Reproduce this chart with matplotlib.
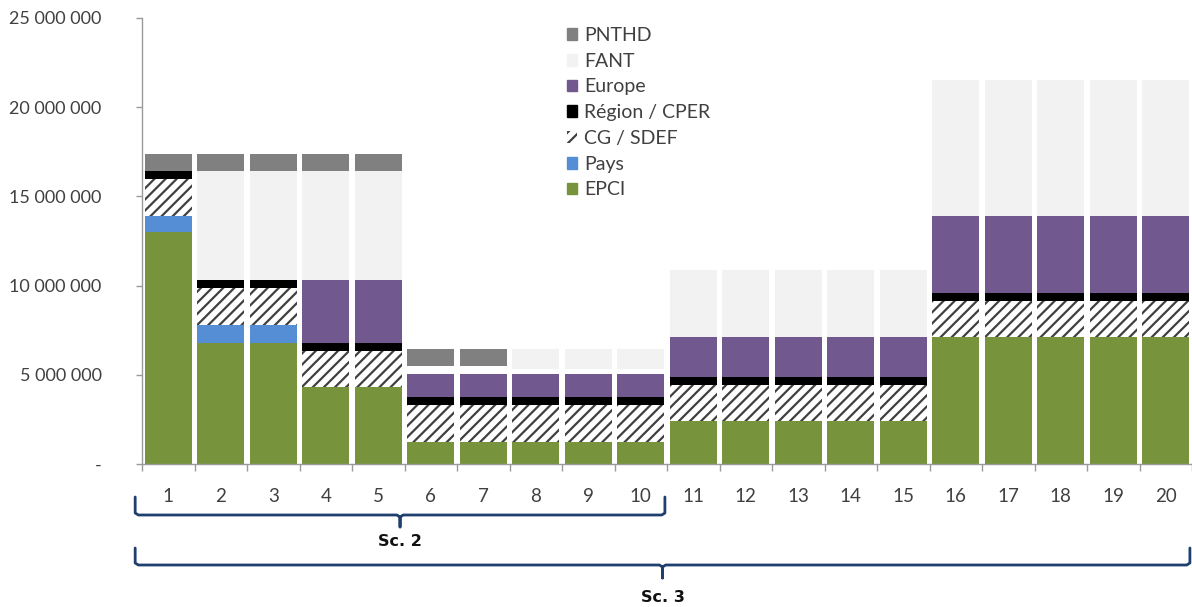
import matplotlib
matplotlib.use("Agg")
import matplotlib.pyplot as plt
import matplotlib.transforms as mtransforms
from matplotlib.patches import Patch
import numpy as np

plt.rcParams["font.family"] = ["Lato", "DejaVu Sans"]
plt.rcParams["hatch.linewidth"] = 1.6

# Scenario index (x categories)
scenarios = [str(i) for i in range(1, 21)]

# Funding per source, in euros (stacked bottom to top)
epci = [13.0e6, 6.8e6, 6.8e6, 4.3e6, 4.3e6,
        1.25e6, 1.25e6, 1.25e6, 1.25e6, 1.25e6,
        2.4e6, 2.4e6, 2.4e6, 2.4e6, 2.4e6,
        7.1e6, 7.1e6, 7.1e6, 7.1e6, 7.1e6]
pays = [0.9e6, 1.0e6, 1.0e6, 0, 0,
        0, 0, 0, 0, 0,
        0, 0, 0, 0, 0,
        0, 0, 0, 0, 0]
cg_sdef = [2.05e6] * 20
region_cper = [0.45e6] * 20
europe = [0, 0, 0, 3.5e6, 3.5e6,
          1.3e6, 1.3e6, 1.3e6, 1.3e6, 1.3e6,
          2.2e6, 2.2e6, 2.2e6, 2.2e6, 2.2e6,
          4.3e6, 4.3e6, 4.3e6, 4.3e6, 4.3e6]
non_affecte = [0, 0, 0, 0, 0,
               0.45e6, 0.45e6, 0.3e6, 0.3e6, 0.3e6,
               0, 0, 0, 0, 0,
               0, 0, 0, 0, 0]
fant = [0, 6.1e6, 6.1e6, 6.1e6, 6.1e6,
        0, 0, 1.1e6, 1.1e6, 1.1e6,
        3.8e6, 3.8e6, 3.8e6, 3.8e6, 3.8e6,
        7.6e6, 7.6e6, 7.6e6, 7.6e6, 7.6e6]
pnthd = [1.0e6, 1.0e6, 1.0e6, 1.0e6, 1.0e6,
         0.95e6, 0.95e6, 0, 0, 0,
         0, 0, 0, 0, 0,
         0, 0, 0, 0, 0]

# Scenario groupings shown under the axis (first and last category)
groups = [("Sc. 2", 1, 10), ("Sc. 3", 1, 20)]

series = [
    ("EPCI", epci, dict(color="#77933C")),
    ("Pays", pays, dict(color="#558ED5")),
    ("CG / SDEF", cg_sdef, dict(facecolor="white", edgecolor="#404040", hatch="///", linewidth=0)),
    ("Région / CPER", region_cper, dict(color="black")),
    ("Europe", europe, dict(color="#71588F")),
    (None, non_affecte, dict(color="white")),
    ("FANT", fant, dict(color="#F2F2F2")),
    ("PNTHD", pnthd, dict(color="#808080")),
]

W, H = 1192, 607
fig = plt.figure(figsize=(W / 100, H / 100), dpi=100)
ax = fig.add_axes([142 / W, 1 - 464 / H, 1 - 142 / W, (464 - 18) / H])

x = np.arange(1, 21)
bottom = np.zeros(20)
handles = []
for name, vals, style in series:
    vals = np.array(vals, dtype=float)
    ax.bar(x, vals, width=0.89, bottom=bottom, **style)
    bottom += vals
    if name is not None:
        handles.append(Patch(label=name, **style))

ax.set_xlim(0.5, 20.5)
ax.set_ylim(0, 25e6)

yt = np.arange(0, 25e6 + 1, 5e6)
ax.set_yticks(yt)
ax.set_yticklabels(["-" if v == 0 else f"{int(v):,}".replace(",", " ") for v in yt])
ax.set_xticks(x)
ax.set_xticklabels(scenarios)
ax.set_xticks(np.arange(0.5, 21, 1), minor=True)

for s in ("top", "right"):
    ax.spines[s].set_visible(False)
for s in ("left", "bottom"):
    ax.spines[s].set_color("#9A9A9A")
    ax.spines[s].set_linewidth(1.0)

ax.tick_params(axis="y", length=4, width=1, color="#9A9A9A", pad=25,
               labelsize=13, labelcolor="#404040")
ax.tick_params(axis="x", which="major", length=0, pad=17, labelsize=13.5, labelcolor="#404040")
ax.tick_params(axis="x", which="minor", length=5, width=1, color="#9A9A9A")

leg = fig.legend(handles=handles[::-1], loc="upper left",
                 bbox_to_anchor=(559 / W, 1 - 19 / H), frameon=False,
                 fontsize=14, handlelength=0.55, handleheight=0.55,
                 handletextpad=0.35, labelspacing=0.45, borderaxespad=0)
for t in leg.get_texts():
    t.set_color("#404040")

# Braces under the category axis
trans = mtransforms.blended_transform_factory(ax.transData, fig.transFigure)
brace_color = "#1F3F6E"


def fy(py):
    return 1 - py / H


def draw_brace(label, first, last, y_top, y_line, y_tip, y_text):
    left = first - 0.63
    right = last + 0.46
    mid = (left + right) / 2
    r = 0.06
    xs = [left, left, left + r, mid - 0.06, mid, mid, mid, mid + 0.06, right - r, right, right]
    ys = [fy(y_top), fy(y_line - 2), fy(y_line), fy(y_line), fy(y_line + 2), fy(y_tip),
          fy(y_line + 2), fy(y_line), fy(y_line), fy(y_line - 2), fy(y_top)]
    ax.plot(xs, ys, transform=trans, color=brace_color, lw=2.0, clip_on=False,
            solid_joinstyle="round", solid_capstyle="round")
    ax.text(mid, fy(y_text), label, transform=trans, ha="center", va="center",
            fontsize=11.5, fontweight="bold", color="#111111",
            family=["DejaVu Sans Condensed", "Liberation Sans Narrow", "DejaVu Sans"])


draw_brace(*groups[0], y_top=497, y_line=515, y_tip=527, y_text=541)
draw_brace(*groups[1], y_top=548, y_line=565, y_tip=578, y_text=597)

fig.savefig("out.png", dpi=100)
